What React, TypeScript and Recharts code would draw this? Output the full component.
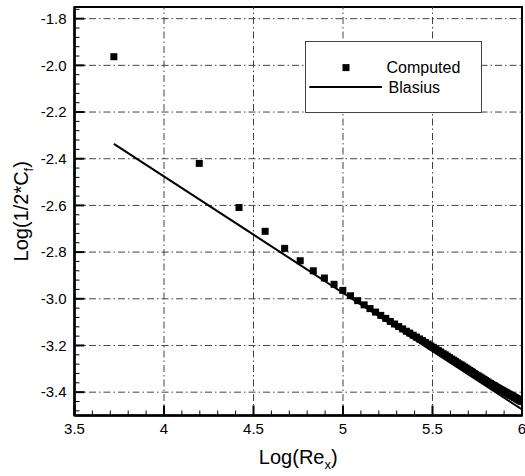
import React from "react"
import {
    ScatterChart, Scatter, XAxis, YAxis, ReferenceLine, ReferenceArea, Legend,
} from "recharts"

const FONT = "'Liberation Sans', Arial, Helvetica, sans-serif"

// skin friction along the plate: Log(Re_x) vs Log(1/2*Cf)
const computedX = [
    3.720, 4.197, 4.419, 4.565, 4.674, 4.761, 4.834, 4.896, 4.950, 4.999,
    5.042, 5.082, 5.118, 5.151, 5.182, 5.211, 5.239, 5.264, 5.288, 5.311,
    5.333, 5.354, 5.373, 5.392, 5.410, 5.428, 5.444, 5.460, 5.476, 5.491,
    5.505, 5.519, 5.533, 5.546, 5.559, 5.571, 5.583, 5.595, 5.607, 5.618,
    5.628, 5.639, 5.649, 5.660, 5.669, 5.679, 5.688, 5.698, 5.707, 5.716,
    5.724, 5.733, 5.741, 5.749, 5.757, 5.765, 5.773, 5.781, 5.788, 5.796,
    5.803, 5.810, 5.817, 5.824, 5.831, 5.837, 5.844, 5.850, 5.857, 5.863,
    5.869, 5.875, 5.881, 5.887, 5.893, 5.899, 5.905, 5.910, 5.916, 5.921,
    5.927, 5.932, 5.937, 5.943, 5.948, 5.953, 5.958, 5.963, 5.968, 5.973,
    5.978, 5.982, 5.987, 5.992, 5.996, 6.001,
]
const computedY = [
    -1.963, -2.420, -2.609, -2.711, -2.784, -2.837, -2.880, -2.911, -2.938, -2.964,
    -2.987, -3.008, -3.026, -3.042, -3.057, -3.071, -3.084, -3.097, -3.108, -3.119,
    -3.129, -3.139, -3.147, -3.156, -3.164, -3.172, -3.179, -3.187, -3.194, -3.202,
    -3.208, -3.215, -3.222, -3.228, -3.235, -3.240, -3.246, -3.252, -3.258, -3.263,
    -3.268, -3.274, -3.279, -3.283, -3.288, -3.293, -3.297, -3.302, -3.307, -3.311,
    -3.315, -3.320, -3.324, -3.328, -3.331, -3.335, -3.339, -3.343, -3.346, -3.350,
    -3.354, -3.357, -3.361, -3.363, -3.367, -3.370, -3.372, -3.375, -3.379, -3.381,
    -3.384, -3.387, -3.389, -3.392, -3.394, -3.397, -3.400, -3.401, -3.404, -3.407,
    -3.409, -3.411, -3.414, -3.415, -3.418, -3.420, -3.423, -3.424, -3.427, -3.429,
    -3.431, -3.433, -3.435, -3.437, -3.439, -3.441,
]
const blasiusX = [3.72, 6.0]
const blasiusY = [-2.336, -3.474]

const xMajor = [3.5, 4, 4.5, 5, 5.5, 6]
const yMajor = [-3.4, -3.2, -3.0, -2.8, -2.6, -2.4, -2.2, -2.0, -1.8]
const xGrid = [4, 4.5, 5, 5.5]

const computed = computedX.map((x, i) => ({ x, y: computedY[i] }))
const blasius = blasiusX.map((x, i) => ({ x, y: blasiusY[i] }))

// minor ticks: 0.1 on x, 0.04 on y
const xTicks: number[] = []
for (let i = 0; i <= 25; i++) xTicks.push(Math.round((3.5 + i * 0.1) * 10) / 10)
const yTicks: number[] = []
for (let i = 0; i <= 43; i++) yTicks.push(Math.round((-3.48 + i * 0.04) * 100) / 100)

const isMajor = (v: number, list: number[]) => list.some((m) => Math.abs(m - v) < 1e-6)

const XTick = ({ x, y, payload }: any) => {
    const v = payload.value
    const major = isMajor(v, xMajor)
    return (
        <g>
            <line x1={x} x2={x} y1={y} y2={y - (major ? 10 : 5)} stroke="#000" strokeWidth={major ? 2 : 1} />
            {major && (
                <text x={x} y={y + 18} textAnchor="middle" fontSize={15} fontFamily={FONT} fill="#000">
                    {String(v)}
                </text>
            )}
        </g>
    )
}

const YTick = ({ x, y, payload }: any) => {
    const v = payload.value
    const major = isMajor(v, yMajor)
    return (
        <g>
            <line x1={x} x2={x + (major ? 10 : 5)} y1={y} y2={y} stroke="#000" strokeWidth={major ? 2 : 1} />
            {major && (
                <text x={x - 8} y={y + 5.3} textAnchor="end" fontSize={15} fontFamily={FONT} fill="#000">
                    {v.toFixed(1)}
                </text>
            )}
        </g>
    )
}

const XTitle = ({ viewBox }: any) => {
    const cx = viewBox.x + viewBox.width / 2
    return (
        <text x={cx} y={463.5} textAnchor="middle" fontSize={20} fontFamily={FONT} fill="#000">
            Log(Re
            <tspan fontSize={13} dy={5}>x</tspan>
            <tspan dy={-5}>)</tspan>
        </text>
    )
}

const YTitle = ({ viewBox }: any) => {
    const cy = viewBox.y + viewBox.height / 2
    return (
        <text x={28} y={cy} transform={`rotate(-90, 28, ${cy})`} textAnchor="middle"
              fontSize={20} fontFamily={FONT} fill="#000">
            Log(1/2*C
            <tspan fontSize={13} dy={5}>f</tspan>
            <tspan dy={-5}>)</tspan>
        </text>
    )
}

const renderLegend = () => (
    <svg width={178} height={73} style={{ display: "block" }}>
        <rect x={0.5} y={0.5} width={176} height={71} fill="#fff" stroke="#444" />
        <rect x={37.5} y={23.1} width={7} height={7} fill="#000" />
        <text x={81.5} y={32} fontSize={16} fontFamily={FONT} fill="#000">Computed</text>
        <line x1={4.3} x2={77} y1={46} y2={46} stroke="#000" strokeWidth={2} />
        <text x={83.5} y={51.5} fontSize={16} fontFamily={FONT} fill="#000">Blasius</text>
    </svg>
)

const Square = ({ cx, cy }: any) => (
    <rect x={cx - 3.5} y={cy - 3.5} width={7} height={7} fill="#000" />
)

export default function App() {
    return (
        <div style={{ position: "absolute", left: 0, top: 0, background: "#fff" }}>
            <ScatterChart width={525} height={476} margin={{ top: 7, right: 3, bottom: 0, left: 0 }}>
                <XAxis
                    type="number" dataKey="x" domain={[3.5, 6]} allowDataOverflow
                    ticks={xTicks} interval={0} tick={<XTick />} tickLine={false}
                    tickSize={0} tickMargin={0} height={60.5}
                    axisLine={{ stroke: "#000", strokeWidth: 2.5 }}
                    label={XTitle}
                />
                <YAxis
                    type="number" dataKey="y" domain={[-3.5, -1.75]} allowDataOverflow
                    ticks={yTicks} interval={0} tick={<YTick />} tickLine={false}
                    tickSize={0} tickMargin={0} width={74.5}
                    axisLine={{ stroke: "#000", strokeWidth: 2.5 }}
                    label={YTitle}
                />
                {xGrid.map((v) => (
                    <ReferenceLine key={"gx" + v} x={v} stroke="#444" strokeDasharray="7 3 1.5 3" />
                ))}
                {yMajor.map((v) => (
                    <ReferenceLine key={"gy" + v} y={v} stroke="#444" strokeDasharray="7 3 1.5 3" />
                ))}
                <ReferenceArea x1={3.5} x2={6} y1={-3.5} y2={-1.75} fill="none" stroke="#000" strokeWidth={2} />
                <Legend
                    content={renderLegend} layout="horizontal" verticalAlign="middle" align="center"
                    wrapperStyle={{ left: 305, top: 41, width: 178, height: 73 }}
                />
                <Scatter name="Blasius" data={blasius} line={{ stroke: "#000", strokeWidth: 2 }}
                         shape={() => <g />} isAnimationActive={false} />
                <Scatter name="Computed" data={computed} shape={<Square />} isAnimationActive={false} />
            </ScatterChart>
        </div>
    )
}
